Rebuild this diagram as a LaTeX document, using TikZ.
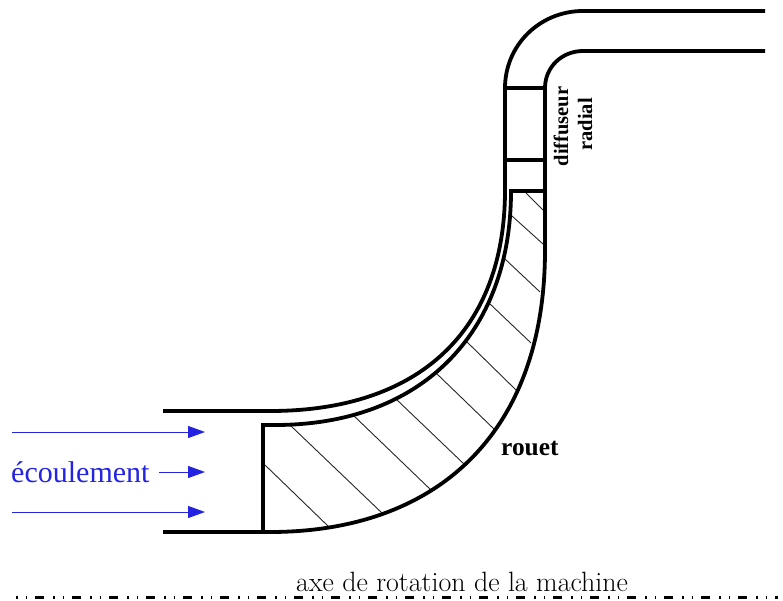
\documentclass[tikz,border=0pt]{standalone}
\usepackage{fontspec}
\setmainfont{Latin Modern Roman}
\newfontfamily\timesf{Liberation Serif}
\usetikzlibrary{arrows.meta}
\definecolor{flowblue}{RGB}{35,35,225}
\tikzset{
  wall/.style={line width=3.8pt,black,line join=miter},
  hatchline/.style={line width=0.9pt,black!85},
  flow/.style={line width=1pt,flowblue,-{Triangle[length=17pt,width=12pt]}},
  axis/.style={line width=2.2pt,black,dash pattern=on 1.6pt off 8pt on 1.6pt off 8pt on 9pt off 8.8pt},
  boldlabel/.style={text=black,inner sep=0pt}
}
\begin{document}
\begin{tikzpicture}[x=1pt,y=-1pt]
\useasboundingbox (0,0) rectangle (783,601);
% hatching
\foreach \a/\b/\c/\d in {265/465/328/526, 291/426/382/513, 353/415/431/490, 396/399/465/465, 436/373/495/430, 466/341/516/390, 489/303/531/343, 505/259/540/292, 512/216/543/244, 526/193/543/210}
  \draw[hatchline] (\a,\b) -- (\c,\d);
% casing
\draw[wall] (163,411) -- (270,411) .. controls (420,411) and (505,330) .. (505,190) -- (505,88)
   .. controls (505,45) and (540,11) .. (583,11) -- (765,11);
\draw[wall] (163,532) -- (270,532) .. controls (435,532) and (545,435) .. (545,250) -- (545,88)
   .. controls (545,67) and (562,51) .. (583,51) -- (765,51);
% rotor
\draw[wall] (263,532) -- (263,425) -- (275,425) .. controls (420,425) and (511,335) .. (511,191) -- (545,191);
\draw[wall] (505,88) -- (545,88);
\draw[wall] (505,160) -- (545,160);
% flow
\coordinate (a1) at (12,432); \coordinate (b1) at (205,432);
\coordinate (a2) at (159,472); \coordinate (b2) at (205,472);
\coordinate (a3) at (12,512); \coordinate (b3) at (205,512);
\draw[flow] (a1) -- (b1);
\draw[flow] (a2) -- (b2);
\draw[flow] (a3) -- (b3);
\node[anchor=base west,inner sep=0pt,text=flowblue,font=\timesf\fontsize{30}{33}\selectfont] (ecoulement) at (11,482) {écoulement};
\node[boldlabel,anchor=base west,font=\timesf\bfseries\fontsize{25.4}{28}\selectfont] (rouet) at (501,455) {rouet};
\node[boldlabel,rotate=90,anchor=base,font=\timesf\bfseries\fontsize{20.5}{23}\selectfont] (diffuseur) at (568,126.5) {diffuseur};
\node[boldlabel,rotate=90,anchor=base,font=\timesf\bfseries\fontsize{20.5}{23}\selectfont] (radial) at (592,124.5) {radial};
\node[anchor=base west,inner sep=0pt,font=\fontsize{27.9}{30}\selectfont] (axe) at (296,591) {axe de rotation de la machine};
\coordinate (axA) at (16,597.5); \coordinate (axB) at (778,597.5);
\draw[axis] (axA) -- (axB);
\end{tikzpicture}
\end{document}
